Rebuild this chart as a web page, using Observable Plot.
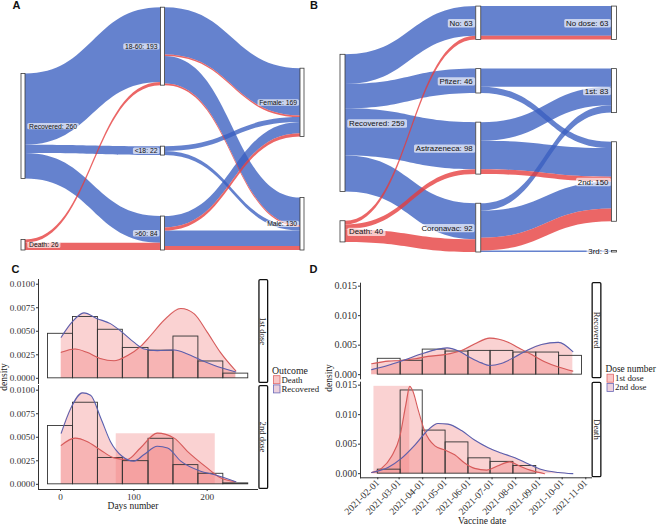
<!DOCTYPE html>
<html><head><meta charset="utf-8">
<script src="https://cdn.jsdelivr.net/npm/d3@7"></script>
<script src="https://cdn.jsdelivr.net/npm/@observablehq/plot@0.6"></script>
<style>
html,body{margin:0;padding:0;background:#fff;}
#root{position:relative;width:658px;height:526px;overflow:hidden;background:#fff;}
</style></head><body><div id="root"></div><script>
// ---------------- DATA ----------------
// Panel A: Outcome -> Age group -> Sex
const aOutcomes = ["Recovered", "Death"];
const aOutcomeCounts = [260, 26];
const aAges = ["18-60", "<18", ">60"];
const aAgeCounts = [193, 22, 84];
const aSexes = ["Female", "Male"];
const aSexCounts = [169, 130];
const aOutcomeToAge = [["Recovered","18-60",185],["Recovered","<18",22],["Recovered",">60",66],["Death","18-60",8],["Death",">60",18]];
const aAgeToSex = [["18-60","Female","Recovered",117],["18-60","Female","Death",4],["18-60","Male","Recovered",68],["18-60","Male","Death",4],
  ["<18","Female","Recovered",12],["<18","Male","Recovered",10],
  [">60","Female","Recovered",28],[">60","Female","Death",8],[">60","Male","Recovered",38],[">60","Male","Death",10]];

// Panel B: Outcome -> Vaccine -> Dose
const bOutcomes = ["Recovered", "Death"];
const bOutcomeCounts = [259, 40];
const bVaccines = ["No", "Pfizer", "Astrazeneca", "Coronavac"];
const bVaccineCounts = [63, 46, 98, 92];
const bDoses = ["No dose", "1st", "2nd", "3rd"];
const bDoseCounts = [63, 83, 150, 3];
const bOutcomeToVaccine = [["Recovered","No",56],["Recovered","Pfizer",46],["Recovered","Astrazeneca",89],["Recovered","Coronavac",68],
  ["Death","No",7],["Death","Astrazeneca",9],["Death","Coronavac",24]];
const bVaccineToDose = [["No","No dose","Recovered",56],["No","No dose","Death",7],["Pfizer","1st","Recovered",34],["Pfizer","2nd","Recovered",12],
  ["Astrazeneca","1st","Recovered",35],["Astrazeneca","2nd","Recovered",54],["Astrazeneca","2nd","Death",9],
  ["Coronavac","1st","Recovered",14],["Coronavac","2nd","Recovered",51],["Coronavac","2nd","Death",24],["Coronavac","3rd","Recovered",3]];

// Panel C: days number histograms + densities
const cYTicks = [0, 0.0025, 0.005, 0.0075, 0.01];
const cXTicks = [0, 100, 200];
const cBinEdges = [-17, 17, 51, 85, 120, 154, 188, 222, 256];
const cFirstHist = [0.00473, 0.00652, 0.00516, 0.00323, 0.00294, 0.00444, 0.00179, 0.0005];
const cSecondHist = [0.0062, 0.00867, 0.0028, 0.00246, 0.00484, 0.00204, 0.00112, 0.0001];
const cSecondBlock = [76, 211, 0.00537];
const cFirstDeath = [[1,0.00276],[20,0.00312],[36,0.00276],[54,0.00211],[73,0.00186],[91,0.0024],[109,0.00337],[123,0.00455],[141,0.00616],[164,0.00742],[182,0.00688],[200,0.00491],[218,0.00276],[239,0.00079]];
const cFirstRecovered = [[1,0.00437],[16,0.00599],[32,0.00695],[50,0.00634],[68,0.00581],[84,0.00491],[100,0.00384],[114,0.00312],[132,0.00294],[155,0.00301],[173,0.00258],[191,0.00194],[209,0.0014],[239,0.00068]];
const cSecondDeath = [[1,0.00414],[20,0.00491],[36,0.00456],[54,0.00368],[73,0.00281],[91,0.00263],[109,0.00386],[132,0.00544],[155,0.00491],[173,0.00351],[200,0.00175],[218,0.0007],[239,0.00028]];
const cSecondRecovered = [[1,0.00544],[14,0.00807],[30,0.00972],[41,0.00947],[55,0.00702],[68,0.00456],[84,0.00298],[100,0.00246],[114,0.00316],[132,0.00404],[146,0.00386],[164,0.00246],[191,0.0014],[209,0.00105],[239,0.00028]];

// Panel D: vaccine date histograms + densities
const dYTicks = [0, 0.005, 0.01, 0.015];
const dXTicks = ["2021-02-01","2021-03-01","2021-04-01","2021-05-01","2021-06-01","2021-07-01","2021-08-01","2021-09-01","2021-10-01","2021-11-01"];
const dBinEdges = ["2021-02-01","2021-03-03","2021-04-01","2021-05-01","2021-05-31","2021-06-29","2021-07-29","2021-08-28","2021-09-27","2021-10-27"];
const dRecoveredHist = [0.00269, 0.00235, 0.00425, 0.00392, 0.00403, 0.00403, 0.00375, 0.00375, 0.00319];
const dDeathHist = [0.00068, 0.0141, 0.0073, 0.0053, 0.0026, 0.002, 0.0013];
const dDeathBlock = ["2021-01-27", "2021-03-15", 0.0148];
const dRecFirst = [["2021-01-24",0.00185],["2021-02-15",0.0023],["2021-03-04",0.0024],["2021-03-22",0.0027],["2021-04-08",0.0031],["2021-04-30",0.0034],["2021-05-22",0.0041],["2021-06-08",0.0052],["2021-06-28",0.0062],["2021-07-10",0.0060],["2021-07-22",0.0055],["2021-08-04",0.0046],["2021-08-22",0.0034],["2021-09-08",0.0022],["2021-09-26",0.0013],["2021-10-15",0.0006]];
const dRecSecond = [["2021-01-24",0.00085],["2021-02-15",0.0016],["2021-03-08",0.0025],["2021-03-30",0.0035],["2021-04-17",0.0042],["2021-05-03",0.00454],["2021-05-18",0.0040],["2021-06-01",0.0030],["2021-06-17",0.0020],["2021-06-28",0.00156],["2021-07-13",0.0019],["2021-07-31",0.0030],["2021-08-17",0.0042],["2021-09-04",0.0051],["2021-09-26",0.00548],["2021-10-15",0.0039]];
const dDeathFirst = [["2021-01-24",0.0002],["2021-02-06",0.0009],["2021-02-19",0.0029],["2021-03-02",0.0063],["2021-03-10",0.0118],["2021-03-15",0.0148],["2021-03-19",0.0140],["2021-03-26",0.0108],["2021-04-03",0.0074],["2021-04-17",0.0047],["2021-04-30",0.0040],["2021-05-13",0.0032],["2021-05-26",0.0018],["2021-06-08",0.0009],["2021-06-24",0.0006],["2021-07-08",0.0013],["2021-07-24",0.0020],["2021-08-06",0.0013],["2021-08-20",0.0006],["2021-09-08",0]];
const dDeathSecond = [["2021-01-24",0.0002],["2021-02-15",0.0011],["2021-03-04",0.0026],["2021-03-22",0.0049],["2021-04-08",0.0074],["2021-04-21",0.0085],["2021-05-04",0.0084],["2021-05-22",0.0073],["2021-06-08",0.0057],["2021-06-26",0.0044],["2021-07-13",0.0035],["2021-07-31",0.0027],["2021-08-17",0.0017],["2021-09-04",0.0007],["2021-09-26",0.0002],["2021-10-15",0]];

// ---------------- STYLE ----------------
const BLUE = "#3a5fc0", RED = "#e63b3b", PINK = "#f07f7f";
const LINE_RED = "#d65a5a", LINE_BLUE = "#5a5fae";
const SERIF = "'Liberation Serif','Times New Roman',serif";
const SANS = "'Liberation Sans',Arial,sans-serif";
const root = document.getElementById("root");

function place(el) {
  el.style.position = "absolute"; el.style.left = "0px"; el.style.top = "0px";
  el.style.background = "transparent"; el.style.maxWidth = "none"; el.style.overflow = "visible";
  root.append(el); return el;
}

// ---------------- SANKEY LAYOUT ----------------
function sankey(axes, flows01, flows12, gap, lift) {
  const nodes = [];
  axes.forEach((ax, a) => {
    let cur = lift[a];
    for (let i = ax.names.length - 1; i >= 0; i--) {
      nodes.push({axis: a, idx: i, name: ax.names[i], count: ax.counts[i], y0: cur, y1: cur + ax.counts[i]});
      cur += ax.counts[i] + gap;
    }
  });
  const find = (a, name) => nodes.find(n => n.axis === a && n.name === name);
  const oi = o => (o === "Death" ? 1 : 0);
  const links = [
    ...flows01.map(([s, t, v]) => ({a: 0, s: find(0, s), t: find(1, t), outcome: s, v})),
    ...flows12.map(([s, t, o, v]) => ({a: 1, s: find(1, s), t: find(2, t), outcome: o, v}))
  ];
  function stack(list, n, key) {
    const total = d3.sum(list, l => l.v);
    if (!total) return;
    const k = n.count / total;
    let top = n.y1;
    for (const l of list) { l[key + "1"] = top; top -= l.v * k; l[key + "0"] = top; }
  }
  for (const n of nodes) {
    stack(links.filter(l => l.s === n).sort((p, q) => p.t.idx - q.t.idx || oi(p.outcome) - oi(q.outcome)), n, "s");
    stack(links.filter(l => l.t === n).sort((p, q) => p.s.idx - q.s.idx || oi(p.outcome) - oi(q.outcome)), n, "t");
  }
  return {nodes, links};
}

function sankeyPlot({layout, hw, xPx, bottomPx, pxPerUnit, yMax, fontSize}) {
  const ribbons = layout.links.flatMap((l, i) => [
    {id: i, outcome: l.outcome, x: l.a + hw, y1: l.s0, y2: l.s1},
    {id: i, outcome: l.outcome, x: l.a + 1 - hw, y1: l.t0, y2: l.t1}
  ]);
  const label = d => `${d.name}: ${d.count}`;
  const ym = d => (d.y0 + d.y1) / 2;
  const svg = Plot.plot({
    width: 658, height: 526,
    marginLeft: xPx[0], marginRight: 658 - xPx[1],
    marginTop: bottomPx - yMax * pxPerUnit, marginBottom: 526 - bottomPx,
    x: {domain: [0, 2], axis: null},
    y: {domain: [0, yMax], axis: null},
    color: {domain: ["Recovered", "Death"], range: [BLUE, RED]},
    marks: [
      Plot.area(ribbons.filter(d => d.outcome === "Recovered"), {x1: "x", y1: "y1", y2: "y2", z: "id", fill: "outcome", fillOpacity: 0.78, curve: "bump-x"}),
      Plot.area(ribbons.filter(d => d.outcome === "Death"), {x1: "x", y1: "y1", y2: "y2", z: "id", fill: "outcome", fillOpacity: 0.78, curve: "bump-x"}),
      Plot.rect(layout.nodes, {x1: d => d.axis - hw, x2: d => d.axis + hw, y1: "y0", y2: "y1", fill: "white", stroke: "#3a3a3a", strokeWidth: 0.8}),
      Plot.text(layout.nodes.filter(d => d.axis === 0), {x: d => d.axis + hw, y: ym, text: label, textAnchor: "start", dx: 3.5, fontSize, fontFamily: SANS, fill: "#111"}),
      Plot.text(layout.nodes.filter(d => d.axis > 0), {x: d => d.axis - hw, y: ym, text: label, textAnchor: "end", dx: -3.5, fontSize, fontFamily: SANS, fill: "#111"})
    ]
  });
  place(svg);
  // label backgrounds
  svg.querySelectorAll('g[aria-label="text"] text').forEach(t => {
    const b = t.getBBox();
    const r = document.createElementNS("http://www.w3.org/2000/svg", "rect");
    r.setAttribute("x", b.x - 1.7); r.setAttribute("y", b.y + 0.3);
    r.setAttribute("width", b.width + 3.4); r.setAttribute("height", b.height - 0.6);
    r.setAttribute("rx", 1.5); r.setAttribute("fill", "white"); r.setAttribute("fill-opacity", 0.65);
    if (t.getAttribute("transform")) r.setAttribute("transform", t.getAttribute("transform"));
    t.parentNode.insertBefore(r, t);
  });
}

const layoutA = sankey(
  [{names: aOutcomes, counts: aOutcomeCounts}, {names: aAges, counts: aAgeCounts}, {names: aSexes, counts: aSexCounts}],
  aOutcomeToAge, aAgeToSex, 151, [0, 0, 0]);
sankeyPlot({layout: layoutA, hw: 2 / 139.5, xPx: [23, 302], bottomPx: 250, pxPerUnit: 0.404, yMax: 605, fontSize: 6.8});

const layoutB = sankey(
  [{names: bOutcomes, counts: bOutcomeCounts}, {names: bVaccines, counts: bVaccineCounts}, {names: bDoses, counts: bDoseCounts}],
  bOutcomeToVaccine, bVaccineToDose, 55, [19, 0, 0]);
sankeyPlot({layout: layoutB, hw: 2.5 / 135.75, xPx: [342.5, 614], bottomPx: 252, pxPerUnit: 0.53, yMax: 470, fontSize: 7.9});

// ---------------- DENSITY PANELS ----------------
function densityPlot({parse, xOpts, yOpts, frame, hist, edges, block, curves, xAxis, fontSize}) {
  const bins = hist.map((v, i) => ({x1: parse(edges[i]), x2: parse(edges[i + 1]), v}));
  const marks = [];
  if (block) marks.push(Plot.rect([block], {x1: d => parse(d[0]), x2: d => parse(d[1]), y1: () => 0, y2: d => d[2], fill: PINK, fillOpacity: 0.35}));
  for (const c of curves) marks.push(Plot.areaY(c.pts, {x: d => parse(d[0]), y: d => d[1], fill: PINK, fillOpacity: 0.35, curve: "monotone-x"}));
  marks.push(Plot.rect(bins, {x1: "x1", x2: "x2", y1: () => 0, y2: "v", fill: "none", stroke: "#333", strokeWidth: 0.9}));
  for (const c of curves) marks.push(Plot.line(c.pts, {x: d => parse(d[0]), y: d => d[1], stroke: c.color, strokeWidth: 1.1, curve: "monotone-x"}));
  const svg = Plot.plot({
    width: 658, height: 526,
    marginLeft: frame[0], marginRight: 658 - frame[1], marginTop: frame[2], marginBottom: 526 - frame[3],
    style: {fontFamily: SERIF, fontSize: fontSize + "px", color: "#333"},
    x: xAxis ? xOpts : {...xOpts, axis: null},
    y: yOpts,
    marks
  });
  place(svg);
}

const num = d => d;
const cX = {domain: [-30, 268.6], ticks: cXTicks, tickSize: 2, tickPadding: 1.5, line: true, label: null};
const cY = {domain: [-0.00055, 0.0105], ticks: cYTicks, tickFormat: d3.format(".4f"), tickSize: 2, tickPadding: 1.5, line: true, label: null};
densityPlot({parse: num, xOpts: cX, yOpts: cY, frame: [38, 257, 279, 383], hist: cFirstHist, edges: cBinEdges,
  curves: [{pts: cFirstDeath, color: LINE_RED}, {pts: cFirstRecovered, color: LINE_BLUE}], xAxis: false, fontSize: 9.2});
densityPlot({parse: num, xOpts: cX, yOpts: cY, frame: [38, 257, 385, 489], hist: cSecondHist, edges: cBinEdges, block: cSecondBlock,
  curves: [{pts: cSecondDeath, color: LINE_RED}, {pts: cSecondRecovered, color: LINE_BLUE}], xAxis: true, fontSize: 9.2});

const date = s => new Date(s);
const dX = {type: "utc", domain: [new Date("2021-01-09T08:00Z"), new Date("2021-11-08T12:00Z")], ticks: dXTicks.map(date),
  tickFormat: d3.utcFormat("%Y-%m-%d"), tickRotate: -45, tickSize: 2, tickPadding: 1.5, line: true, label: null};
const dY = {domain: [-0.0007, 0.0155], ticks: dYTicks, tickFormat: d3.format(".3f"), tickSize: 2, tickPadding: 1.5, line: true, label: null};
densityPlot({parse: date, xOpts: dX, yOpts: dY, frame: [360, 591, 282.7, 378.3], hist: dRecoveredHist, edges: dBinEdges,
  curves: [{pts: dRecFirst, color: LINE_RED}, {pts: dRecSecond, color: LINE_BLUE}], xAxis: false, fontSize: 10});
densityPlot({parse: date, xOpts: dX, yOpts: dY, frame: [360, 591, 381.7, 477.3], hist: dDeathHist, edges: dBinEdges, block: dDeathBlock,
  curves: [{pts: dDeathFirst, color: LINE_RED}, {pts: dDeathSecond, color: LINE_BLUE}], xAxis: true, fontSize: 9.6});

// ---------------- ANNOTATIONS ----------------
const ov = d3.create("svg").attr("width", 658).attr("height", 526)
  .style("position", "absolute").style("left", "0px").style("top", "0px").style("pointer-events", "none");
const letters = [["A", 12.5, 8.6], ["B", 310, 8.6], ["C", 11.5, 272.8], ["D", 309.5, 272.8]];
ov.selectAll("text.letter").data(letters).join("text").attr("class", "letter")
  .attr("x", d => d[1]).attr("y", d => d[2]).text(d => d[0])
  .attr("font-family", SANS).attr("font-weight", "bold").attr("font-size", 11).attr("fill", "#111");

const t = (txt, x, y, opts = {}) => {
  const e = ov.append("text").attr("x", 0).attr("y", 0).attr("transform", `translate(${x},${y})` + (opts.rotate ? ` rotate(${opts.rotate})` : ""))
    .attr("font-family", SERIF).attr("font-size", opts.size || 9.5).attr("fill", opts.fill || "#1a1a1a")
    .attr("text-anchor", opts.anchor || "middle").text(txt);
  if (opts.central) e.attr("dominant-baseline", "central");
  return e;
};
t("density", 6.8, 377, {rotate: -90});
t("density", 331.5, 378, {rotate: -90});
t("Days number", 133, 509);
t("Vaccine date", 482, 523.5);

// strips
const strips = [["1st dose", 258.3, 279, 10, 104], ["2nd dose", 258.3, 385, 10, 104], ["Recovered", 591.5, 282, 10, 96.3], ["Death", 591.5, 381.7, 10, 95.6]];
for (const [txt, x, y, w, h] of strips) {
  ov.append("rect").attr("x", x + 0.65).attr("y", y + 0.65).attr("width", w - 1.3).attr("height", h - 1.3)
    .attr("rx", 1.2).attr("fill", "white").attr("stroke", "#111").attr("stroke-width", 1.3);
  t(txt, x + w / 2, y + h / 2, {rotate: 90, size: 8.6, central: true});
}

// legends
function legend(title, items, x, y, size) {
  t(title, x, y, {anchor: "start", size});
  items.forEach(([lab, fill, stroke], i) => {
    ov.append("rect").attr("x", x + 1.5).attr("y", y + 2.2 + i * 9.2).attr("width", 6.5).attr("height", 8)
      .attr("fill", fill).attr("stroke", stroke).attr("stroke-width", 0.8);
    t(lab, x + 9.5, y + 9.2 + i * 9.2, {anchor: "start", size: 8.8});
  });
}
legend("Outcome", [["Death", "#f9c6c6", "#e06666"], ["Recovered", "#ecd0dd", "#6a6ab8"]], 272, 373.5, 9.8);
legend("Dose number", [["1st dose", "#f9c6c6", "#e06666"], ["2nd dose", "#ecd0dd", "#6a6ab8"]], 605.5, 372, 9.4);

root.append(ov.node());
</script></body></html>
